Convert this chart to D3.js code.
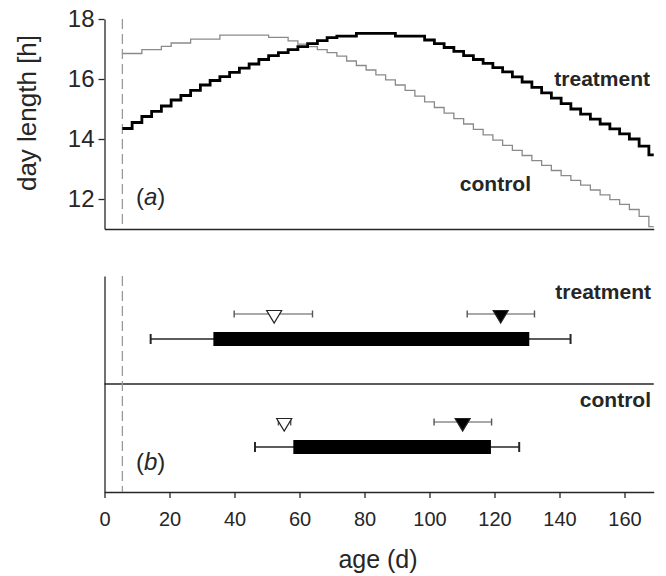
<!DOCTYPE html>
<html>
<head>
<meta charset="utf-8">
<script src="https://cdn.jsdelivr.net/npm/d3@7"></script>
<style>
  body { margin: 0; background: #fff; }
  svg { display: block; font-family: "Liberation Sans", Arial, sans-serif; }
</style>
</head>
<body>
<div id="chart"></div>
<script>
// Day length steps (a): start age of each 3-day step
const stepAges = [5.5, 8.5, 11.5, 14.5, 17.5, 20.5, 23.5, 26.5, 29.5, 32.5, 35.5, 38.5, 41.5, 44.5,
    47.5, 50.5, 53.5, 56.5, 59.5, 62.5, 65.5, 68.5, 71.5, 74.5, 77.5, 80.5, 83.5, 86.5, 89.5, 92.5,
    95.5, 98.5, 101.5, 104.5, 107.5, 110.5, 113.5, 116.5, 119.5, 122.5, 125.5, 128.5, 131.5, 134.5,
    137.5, 140.5, 143.5, 146.5, 149.5, 152.5, 155.5, 158.5, 161.5, 164.5, 167.5];
const lastAge = 169;
const treatmentDay = [14.35, 14.55, 14.75, 14.92, 15.1, 15.3, 15.45, 15.62, 15.8, 15.95, 16.08, 16.22,
    16.36, 16.5, 16.65, 16.78, 16.88, 16.98, 17.08, 17.18, 17.28, 17.38, 17.43, 17.43, 17.52, 17.52,
    17.52, 17.52, 17.43, 17.43, 17.43, 17.3, 17.18, 17.05, 16.92, 16.78, 16.65, 16.52, 16.38, 16.24,
    16.07, 15.9, 15.72, 15.54, 15.36, 15.18, 15.0, 14.83, 14.66, 14.5, 14.34, 14.17, 14.0, 13.76, 13.47];
const controlDay = [16.85, 16.85, 16.98, 16.98, 17.09, 17.2, 17.2, 17.33, 17.33, 17.33, 17.46, 17.46,
    17.46, 17.46, 17.46, 17.39, 17.39, 17.27, 17.16, 17.08, 16.98, 16.88, 16.76, 16.6, 16.45, 16.3,
    16.14, 15.97, 15.8, 15.62, 15.43, 15.24, 15.05, 14.86, 14.68, 14.5, 14.32, 14.14, 13.96, 13.79,
    13.62, 13.45, 13.28, 13.12, 12.95, 12.78, 12.62, 12.46, 12.3, 12.14, 11.98, 11.82, 11.65, 11.42, 11.08];
const hatchAge = 5.5;
const dayTicks = [12, 14, 16, 18];

// Ages (b)
const groups = ["treatment", "control"];
const rangeLo = [14.2, 46.3];
const barStart = [33.5, 58.1];
const barEnd = [130.7, 118.9];
const rangeHi = [143.4, 127.6];
const openMean = [52.2, 55.3];
const openLo = [39.9, 53.5];
const openHi = [64.0, 57.3];
const filledMean = [121.9, 110.2];
const filledLo = [111.6, 101.4];
const filledHi = [132.3, 119.1];

const width = 666, height = 576;
const ink = "#262626";

const svg = d3.select("#chart").append("svg")
    .attr("width", width)
    .attr("height", height);

const x = d3.scaleLinear().domain([0, lastAge]).range([104.5, 653.75]);
const yTop = d3.scaleLinear().domain([11, 18]).range([229, 19]);
const yBot = d3.scaleBand().domain(groups).range([276, 492]);

// ---- panel (a) ----
const gTop = svg.append("g");

gTop.append("g")
    .attr("transform", "translate(" + x(0) + ",0)")
    .call(d3.axisLeft(yTop).tickValues(dayTicks).tickFormat(d3.format("d"))
        .tickSize(6).tickSizeOuter(0).tickPadding(4))
    .call(g => g.selectAll("text").attr("font-size", 24).attr("fill", ink).attr("font-family", null))
    .call(g => g.selectAll("path, line").attr("stroke", ink).attr("stroke-width", 1.3));

gTop.append("g")
    .attr("transform", "translate(0," + yTop(11) + ")")
    .call(d3.axisBottom(x).tickValues([]).tickSizeOuter(0))
    .call(g => g.select("path").attr("stroke", ink).attr("stroke-width", 1.3));

gTop.append("line")
    .attr("x1", x(hatchAge)).attr("x2", x(hatchAge))
    .attr("y1", yTop(18)).attr("y2", yTop(11))
    .attr("stroke", "#9a9a9a").attr("stroke-width", 1.3)
    .attr("stroke-dasharray", "10,5");

const stepLine = d3.line()
    .x(d => x(d[0]))
    .y(d => yTop(d[1]))
    .curve(d3.curveStepAfter);

function steps(values) {
    const pts = stepAges.map((a, i) => [a, values[i]]);
    pts.push([lastAge, values[values.length - 1]]);
    return pts;
}

gTop.append("path")
    .attr("d", stepLine(steps(controlDay)))
    .attr("fill", "none")
    .attr("stroke", "#8a8a8a")
    .attr("stroke-width", 1.3);

gTop.append("path")
    .attr("d", stepLine(steps(treatmentDay)))
    .attr("fill", "none")
    .attr("stroke", "#000")
    .attr("stroke-width", 2.8);

gTop.append("text")
    .attr("x", 650).attr("y", 86)
    .attr("text-anchor", "end")
    .attr("font-size", 21).attr("font-weight", "bold").attr("fill", ink)
    .text("treatment");

gTop.append("text")
    .attr("x", 531).attr("y", 191)
    .attr("text-anchor", "end")
    .attr("font-size", 21).attr("font-weight", "bold").attr("fill", ink)
    .text("control");

function panelTag(sel, letter, px, py) {
    const t = sel.append("text")
        .attr("x", px).attr("y", py)
        .attr("font-size", 24).attr("fill", ink);
    t.append("tspan").text("(");
    t.append("tspan").attr("font-style", "italic").text(letter);
    t.append("tspan").text(")");
}
panelTag(gTop, "a", 136, 205);

svg.append("text")
    .attr("transform", "translate(36," + ((yTop(18) + yTop(11)) / 2 - 11) + ") rotate(-90)")
    .attr("text-anchor", "middle")
    .attr("font-size", 26).attr("fill", ink)
    .text("day length [h]");

// ---- panel (b) ----
const gBot = svg.append("g");

gBot.append("g")
    .attr("transform", "translate(0," + yBot.range()[1] + ")")
    .call(d3.axisBottom(x).tickSize(6).tickSizeOuter(0).tickPadding(14))
    .call(g => g.selectAll("text").attr("font-size", 20).attr("fill", ink).attr("font-family", null))
    .call(g => g.selectAll("path, line").attr("stroke", ink).attr("stroke-width", 1.3));

gBot.append("g")
    .attr("transform", "translate(" + x(0) + ",0)")
    .call(d3.axisLeft(yBot).tickValues([]).tickSizeOuter(0))
    .call(g => g.select("path").attr("stroke", ink).attr("stroke-width", 1.3));

gBot.append("line")
    .attr("x1", x(0)).attr("x2", x(lastAge))
    .attr("y1", yBot("control")).attr("y2", yBot("control"))
    .attr("stroke", ink).attr("stroke-width", 1.3);

gBot.append("line")
    .attr("x1", x(hatchAge)).attr("x2", x(hatchAge))
    .attr("y1", yBot.range()[0]).attr("y2", yBot.range()[1])
    .attr("stroke", "#9a9a9a").attr("stroke-width", 1.3)
    .attr("stroke-dasharray", "10,5");

const rows = gBot.selectAll(".grp")
    .data(groups)
    .enter().append("g")
    .attr("class", "grp")
    .attr("transform", d => "translate(0," + yBot(d) + ")");

const meanRow = 38, barRow = 63;

// group labels
rows.append("text")
    .attr("x", 651).attr("y", 22.5)
    .attr("text-anchor", "end")
    .attr("font-size", 21).attr("font-weight", "bold").attr("fill", ink)
    .text(d => d);

// whiskers of the range bar
rows.append("line")
    .attr("x1", (d, i) => x(rangeLo[i])).attr("x2", (d, i) => x(rangeHi[i]))
    .attr("y1", barRow).attr("y2", barRow)
    .attr("stroke", ink).attr("stroke-width", 1.4);
rows.selectAll(".cap")
    .data((d, i) => [rangeLo[i], rangeHi[i]])
    .enter().append("line")
    .attr("class", "cap")
    .attr("x1", d => x(d)).attr("x2", d => x(d))
    .attr("y1", barRow - 5).attr("y2", barRow + 5)
    .attr("stroke", ink).attr("stroke-width", 2);

rows.append("rect")
    .attr("x", (d, i) => x(barStart[i]))
    .attr("width", (d, i) => x(barEnd[i]) - x(barStart[i]))
    .attr("y", barRow - 7)
    .attr("height", 14)
    .attr("fill", "#000");

// mean +/- error, open and filled triangles
function meanMarks(lo, hi, mean, fill) {
    rows.append("line")
        .attr("x1", (d, i) => x(lo[i])).attr("x2", (d, i) => x(hi[i]))
        .attr("y1", meanRow).attr("y2", meanRow)
        .attr("stroke", "#555").attr("stroke-width", 1.2);
    rows.each(function(d, i) {
        d3.select(this).selectAll(null)
            .data([lo[i], hi[i]])
            .enter().append("line")
            .attr("x1", v => x(v)).attr("x2", v => x(v))
            .attr("y1", meanRow - 3.5).attr("y2", meanRow + 3.5)
            .attr("stroke", "#555").attr("stroke-width", 1.4);
    });
    rows.append("path")
        .attr("transform", (d, i) => "translate(" + x(mean[i]) + "," + meanRow + ")")
        .attr("d", "M-7.5,-3.5L7.5,-3.5L0,9Z")
        .attr("fill", fill)
        .attr("stroke", "#222")
        .attr("stroke-width", 1.2);
}
meanMarks(openLo, openHi, openMean, "#fff");
meanMarks(filledLo, filledHi, filledMean, "#000");

panelTag(gBot, "b", 136, 470);

svg.append("text")
    .attr("x", 378).attr("y", 568)
    .attr("text-anchor", "middle")
    .attr("font-size", 25).attr("fill", ink)
    .text("age (d)");
</script>
</body>
</html>
